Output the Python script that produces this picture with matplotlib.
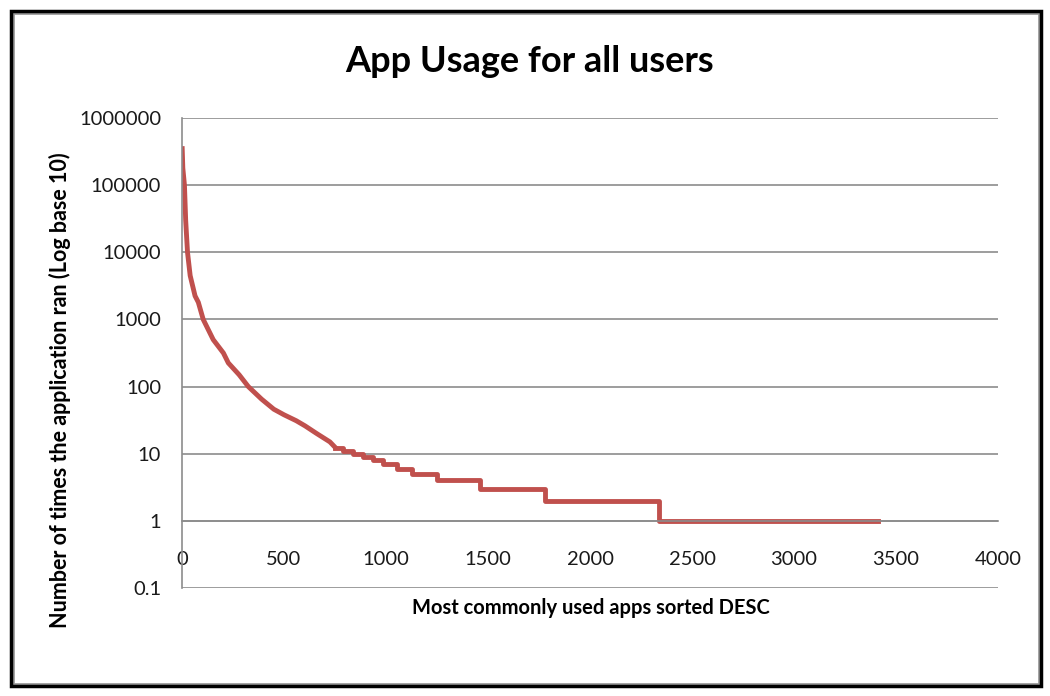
import matplotlib.pyplot as plt
from matplotlib.patches import Rectangle
from matplotlib.ticker import FixedLocator, FixedFormatter

# values: rank of app vs. run count
curve_rank = [1, 4, 12, 18, 27, 40, 64, 80, 104, 153, 203, 227, 280, 325, 390,
              450, 500, 560, 603, 660, 725, 750]
curve_count = [350000, 180000, 100000, 30000, 10000, 4500, 2240, 1800, 1000, 500,
               316, 225, 150, 100, 65, 46, 38, 31, 26, 20, 15, 12.5]

# integer plateaus at the tail
step_rank = [750, 791, 840, 889, 938, 987, 1052, 1126, 1248, 1461, 1779, 2340, 3412]
step_count = [12, 11, 10, 9, 8, 7, 6, 5, 4, 3, 2, 1, 1]

y_ticks = [0.1, 1, 10, 100, 1000, 10000, 100000, 1000000]
y_labels = ['0.1', '1', '10', '100', '1000', '10000', '100000', '1000000']
x_ticks = [0, 500, 1000, 1500, 2000, 2500, 3000, 3500, 4000]

plt.rcParams['font.family'] = ['Lato', 'DejaVu Sans']

fig = plt.figure(figsize=(10.5, 6.96), dpi=100)
ax = fig.add_axes([182 / 1050, 1 - 588 / 696, 816 / 1050, 470 / 696])

red = '#C0504D'
grid = '#8C8C8C'
ax.plot(curve_rank, curve_count, color=red, lw=3.5, solid_joinstyle='round')
ax.plot(step_rank, step_count, color=red, lw=3.5, drawstyle='steps-post')

ax.set_yscale('log')
ax.set_ylim(0.1, 1000000)
ax.set_xlim(0, 4000)
ax.yaxis.set_major_locator(FixedLocator(y_ticks))
ax.yaxis.set_major_formatter(FixedFormatter(y_labels))
ax.yaxis.set_minor_locator(FixedLocator([]))
ax.set_xticks(x_ticks)
ax.set_xticklabels([str(v) for v in x_ticks])

ax.grid(axis='y', color=grid, lw=1.2)
ax.set_axisbelow(True)
for s in ['top', 'right']:
    ax.spines[s].set_visible(False)
ax.spines['left'].set_color(grid)
ax.spines['left'].set_linewidth(1.2)
ax.spines['bottom'].set_position(('data', 1))
ax.spines['bottom'].set_color(grid)
ax.spines['bottom'].set_linewidth(1.2)
ax.tick_params(axis='both', length=0, labelsize=14.5, colors='#1A1A1A')
ax.tick_params(axis='y', pad=15)
ax.tick_params(axis='x', pad=22)

fig.text(530 / 1050, 1 - 62 / 696, 'App Usage for all users', ha='center', va='center',
         fontsize=26, fontweight='bold')
fig.text(60 / 1050, 1 - 390 / 696, 'Number of times the application ran (Log base 10)',
         rotation=90, ha='center', va='center', fontsize=15.5, fontweight='bold')
fig.text(591 / 1050, 1 - 608 / 696, 'Most commonly used apps sorted DESC',
         ha='center', va='center', fontsize=14.5, fontweight='bold')

# outer frame
fig.patches.append(Rectangle((13 / 1050, 1 - 684 / 696), 1026 / 1050, 671 / 696,
                             transform=fig.transFigure, fill=False, ec='#9A9A9A', lw=2))
fig.patches.append(Rectangle((11 / 1050, 1 - 686 / 696), 1030 / 1050, 675 / 696,
                             transform=fig.transFigure, fill=False, ec='black', lw=2.5))

fig.savefig('out.png', dpi=100)
plt.close()
